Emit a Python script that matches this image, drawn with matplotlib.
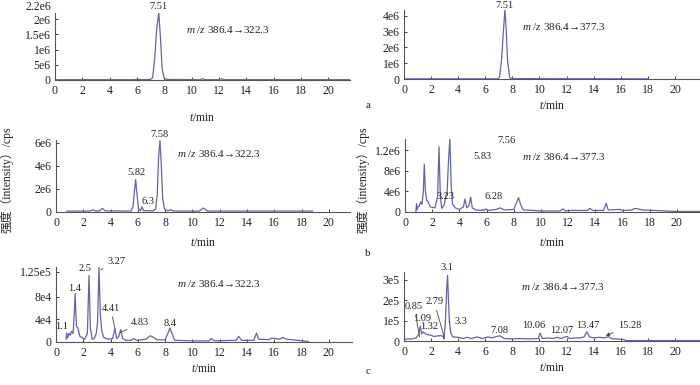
import matplotlib
matplotlib.use("Agg")
import matplotlib.pyplot as plt

plt.rcParams.update({
    "font.family": ["Liberation Serif", "DejaVu Serif"],
    "mathtext.fontset": "custom",
    "mathtext.it": "Liberation Serif:italic",
    "mathtext.rm": "Liberation Serif",
    "axes.edgecolor": "#555555",
    "axes.linewidth": 0.8,
})

LINE = "#6262b0"
TXT = "#222222"
CJK = ["Liberation Serif", "Noto Sans CJK SC"]

X_TICKS = [0, 2, 4, 6, 8, 10, 12, 14, 16, 18, 20]

# ---- a: standard, m/z 386.4 -> 322.3
a1_t = [0, 5.8, 6.0, 6.4, 7.0, 7.15, 7.3, 7.45, 7.6, 7.72, 7.85, 8.0, 8.2,
        10.6, 10.8, 11.0, 12.0, 12.2, 12.4, 21.6]
a1_y = [0.01e6, 0.01e6, 0.025e6, 0.01e6, 0.02e6, 0.08e6, 0.7e6, 1.7e6, 2.2e6,
        1.4e6, 0.35e6, 0.05e6, 0.02e6, 0.01e6, 0.04e6, 0.01e6, 0.01e6, 0.04e6,
        0.01e6, 0.01e6]
a1_ticks = [0, 0.5e6, 1e6, 1.5e6, 2e6]
a1_ticklabels = ["0", "5e6", "1e6", "1.5e6", "2e6"]
a1_top_label = "2.2e6"
a1_top = 2.2e6
a1_peaks = ["7.51"]
a1_px = [7.6]
a1_py = [2.4e6]

# ---- a: standard, m/z 386.4 -> 377.3
a2_t = [0, 6.9, 7.05, 7.2, 7.35, 7.45, 7.55, 7.65, 7.8, 8.0, 18.0]
a2_y = [0.01e6, 0.01e6, 0.1e6, 1.2e6, 3.2e6, 4.4e6, 3.0e6, 1.1e6, 0.1e6,
        0.02e6, 0.01e6]
a2_ticks = [0, 1e6, 2e6, 3e6, 4e6]
a2_ticklabels = ["0", "1e6", "2e6", "3e6", "4e6"]
a2_peaks = ["7.51"]
a2_px = [7.45]
a2_py = [4.68e6]

# ---- b: m/z 386.4 -> 322.3
b1_t = [0.8, 2.5, 2.7, 2.9, 3.2, 3.4, 3.6, 5.5, 5.65, 5.75, 5.84, 5.93, 6.05,
        6.2, 6.3, 6.42, 7.1, 7.3, 7.42, 7.52, 7.62, 7.72, 7.82, 7.95, 8.2, 8.4,
        8.6, 10.5, 10.8, 11.1, 18.8]
b1_y = [0.08e6, 0.08e6, 0.2e6, 0.08e6, 0.1e6, 0.32e6, 0.1e6, 0.08e6, 0.5e6,
        1.8e6, 2.8e6, 1.6e6, 0.3e6, 0.12e6, 0.45e6, 0.12e6, 0.1e6, 0.25e6,
        1.5e6, 4.8e6, 6.2e6, 4.0e6, 1.2e6, 0.25e6, 0.1e6, 0.2e6, 0.08e6,
        0.08e6, 0.35e6, 0.08e6, 0.08e6]
b1_ticks = [0, 2e6, 4e6, 6e6]
b1_ticklabels = ["0", "2e6", "4e6", "6e6"]
b1_peaks = ["7.58", "5.82", "6.3"]
b1_px = [7.6, 5.86, 6.75]
b1_py = [6.7e6, 3.4e6, 0.9e6]

# ---- b: m/z 386.4 -> 377.3
b2_t = [0.8, 0.85, 0.9, 0.95, 1.05, 1.15, 1.25, 1.35, 1.42, 1.5, 1.6, 1.7,
        1.85, 2.2, 2.4, 2.5, 2.6, 2.7, 2.9, 3.0, 3.1, 3.2, 3.3, 3.4, 3.5, 3.7,
        4.0, 4.3, 4.41, 4.55, 4.7, 4.83, 4.95, 5.2, 5.6, 5.7, 5.8, 5.95, 6.1,
        6.7, 7.0, 7.3, 8.0, 8.2, 8.35, 8.5, 8.7, 9.5, 10.0, 11.4, 11.6, 11.8,
        12.2, 13.4, 13.6, 13.8, 14.6, 14.8, 14.95, 15.8, 16.0, 16.7, 16.9,
        17.5, 20.0, 21.7]
b2_y = [0.0, 0.16e6, 0.05e6, 0.1e6, 0.12e6, 0.2e6, 0.15e6, 0.4e6, 0.93e6,
        0.4e6, 0.23e6, 0.2e6, 0.1e6, 0.08e6, 0.3e6, 1.27e6, 0.3e6, 0.07e6,
        0.15e6, 0.3e6, 0.4e6, 1.0e6, 1.42e6, 0.5e6, 0.15e6, 0.08e6, 0.05e6,
        0.1e6, 0.25e6, 0.08e6, 0.12e6, 0.29e6, 0.08e6, 0.04e6, 0.03e6, 0.05e6,
        0.03e6, 0.06e6, 0.03e6, 0.05e6, 0.08e6, 0.04e6, 0.05e6, 0.18e6,
        0.28e6, 0.15e6, 0.04e6, 0.03e6, 0.02e6, 0.02e6, 0.06e6, 0.02e6,
        0.03e6, 0.03e6, 0.07e6, 0.03e6, 0.03e6, 0.17e6, 0.04e6, 0.05e6,
        0.03e6, 0.04e6, 0.07e6, 0.04e6, 0.01e6, 0.01e6]
b2_ticks = [0, 0.4e6, 0.8e6, 1.2e6]
b2_ticklabels = ["0", "4e6", "8e6", "1.2e6"]
b2_peaks = ["7.56", "5.83", "3.23", "6.28"]
b2_px = [7.5, 5.7, 3.0, 6.55]
b2_py = [1.4e6, 1.07e6, 0.3e6, 0.3e6]

# ---- c: m/z 386.4 -> 322.3
c1_t = [0.75, 0.78, 0.85, 0.95, 1.05, 1.15, 1.25, 1.32, 1.4, 1.5, 1.6, 1.75,
        2.1, 2.3, 2.42, 2.52, 2.65, 2.8, 2.95, 3.05, 3.15, 3.25, 3.35, 3.5,
        3.8, 4.15, 4.32, 4.45, 4.6, 4.74, 4.88, 5.1, 5.5, 5.7, 5.9, 6.6, 6.9,
        7.1, 7.4, 8.0, 8.2, 8.35, 8.5, 8.7, 10.0, 11.2, 11.4, 11.6, 13.2,
        13.4, 13.6, 14.5, 14.7, 14.85, 15.6, 15.8, 16.4, 16.6, 16.9, 18.5]
c1_y = [0.5e4, 1.6e4, 0.7e4, 1.6e4, 1.2e4, 1.9e4, 1.5e4, 4.0e4, 8.6e4, 2.8e4,
        2.5e4, 1.0e4, 0.5e4, 1.5e4, 11.8e4, 2.5e4, 0.5e4, 0.6e4, 1.5e4,
        3.5e4, 13.4e4, 5.0e4, 2.0e4, 0.8e4, 0.5e4, 0.6e4, 2.4e4, 0.6e4,
        1.0e4, 2.2e4, 0.6e4, 0.3e4, 0.3e4, 0.6e4, 0.3e4, 0.5e4, 1.1e4,
        0.9e4, 0.4e4, 0.4e4, 1.5e4, 2.5e4, 1.5e4, 0.3e4, 0.2e4, 0.2e4,
        0.6e4, 0.2e4, 0.3e4, 1.0e4, 0.3e4, 0.3e4, 1.6e4, 0.5e4, 0.4e4,
        0.7e4, 0.5e4, 0.8e4, 0.5e4, 0.1e4]
c1_ticks = [0, 4e4, 8e4, 1.25e5]
c1_ticklabels = ["0", "4e4", "8e4", "1.25e5"]
c1_peaks = ["1.1", "1.4", "2.5", "8.4"]
c1_px = [0.4, 1.38, 2.1, 8.35]
c1_py = [2.7e4, 9.4e4, 1.3e5, 3.3e4]
# labels with leader lines: text, text pos, peak pos
c1_lead = ["3.27", "4.41", "4.83"]
c1_lx = [4.4, 4.0, 6.15]
c1_ly = [1.43e5, 6.0e4, 3.4e4]
c1_tx = [3.3, 4.32, 4.74]
c1_ty = [1.28e5, 2.4e4, 1.7e4]

# ---- c: m/z 386.4 -> 377.3
c2_t = [0, 0.3, 0.6, 0.9, 1.0, 1.1, 1.2, 1.3, 1.4, 1.5, 1.6, 1.8, 2.0, 2.2,
        2.5, 2.8, 2.9, 2.95, 3.05, 3.15, 3.22, 3.28, 3.35, 3.45, 3.6, 4.0,
        4.4, 4.6, 5.0, 5.4, 5.8, 6.2, 6.5, 6.8, 7.1, 7.4, 8.0, 8.6, 9.2, 9.9,
        10.05, 10.2, 10.6, 11.0, 11.3, 11.6, 11.9, 12.05, 12.2, 12.6, 13.0,
        13.3, 13.5, 13.7, 14.0, 14.4, 14.8, 15.1, 15.3, 15.7, 16.2, 16.4,
        21.8]
c2_y = [0.08e5, 0.1e5, 0.1e5, 0.15e5, 0.25e5, 0.35e5, 0.73e5, 0.35e5, 0.45e5,
        0.4e5, 0.35e5, 0.3e5, 0.28e5, 0.22e5, 0.25e5, 0.26e5, 0.2e5, 0.1e5,
        0.9e5, 2.5e5, 3.2e5, 2.0e5, 0.94e5, 0.4e5, 0.2e5, 0.18e5, 0.12e5,
        0.18e5, 0.12e5, 0.2e5, 0.12e5, 0.2e5, 0.15e5, 0.22e5, 0.25e5, 0.12e5,
        0.1e5, 0.12e5, 0.1e5, 0.12e5, 0.38e5, 0.12e5, 0.15e5, 0.12e5, 0.18e5,
        0.12e5, 0.2e5, 0.22e5, 0.12e5, 0.15e5, 0.15e5, 0.2e5, 0.45e5, 0.2e5,
        0.15e5, 0.18e5, 0.15e5, 0.22e5, 0.12e5, 0.1e5, 0.08e5, 0.02e5, 0.02e5]
c2_ticks = [0, 1e5, 2e5, 3e5]
c2_ticklabels = ["0", "1e5", "2e5", "3e5"]
c2_peaks = ["1.09", "1.32", "3.1", "7.08", "10.06", "12.07", "13.47"]
c2_px = [1.34, 1.86, 3.15, 7.05, 9.6, 11.65, 13.55]
c2_py = [1.1e5, 0.7e5, 3.6e5, 0.5e5, 0.75e5, 0.5e5, 0.75e5]
c2_lead = ["0.85", "2.79", "3.3"]
c2_lx = [0.75, 2.23, 4.2]
c2_ly = [1.67e5, 1.92e5, 0.94e5]
c2_tx = [1.15, 2.98, 3.35]
c2_ty = [0.2e5, 0.16e5, 0.94e5]
c2_arrow = "15.28"
c2_arrow_xy = (14.9, 0.26e5)
c2_arrow_txt = (16.7, 0.75e5)

MZ_322 = "$m$ /$z$ 386.4\u2192322.3"
MZ_377 = "$m$ /$z$ 386.4\u2192377.3"

W, H = 700, 385


def px_rect(left, right, top, bottom):
    return [left / W, 1 - bottom / H, (right - left) / W, (bottom - top) / H]


def panel(rect, xmax, ymax, t, y, ticks, ticklabels, mz, mz_xy,
          peaks, px, py, label_pad):
    ax = fig.add_axes(rect)
    ax.plot(t, y, color=LINE, lw=0.9)
    ax.set_xlim(0, xmax)
    ax.set_ylim(0, ymax)
    ax.set_xticks(X_TICKS)
    ax.set_yticks(ticks)
    ax.set_yticklabels(ticklabels)
    ax.spines[["top", "right"]].set_visible(False)
    ax.tick_params(axis="both", direction="in", length=2, width=0.6,
                   labelsize=8.5, colors=TXT)
    ax.tick_params(axis="x", pad=3.5)
    ax.tick_params(axis="y", pad=3)
    ax.set_xlabel("$t$/min", fontsize=8.5, color=TXT, labelpad=label_pad)
    ax.text(mz_xy[0], mz_xy[1], mz, fontsize=8, color=TXT, va="center")
    for lab, x, yy in zip(peaks, px, py):
        ax.text(x, yy, lab, fontsize=7.5, color=TXT, ha="center", va="center")
    return ax


def leaders(ax, labels, lx, ly, tx, ty):
    for lab, x, yy, x2, y2 in zip(labels, lx, ly, tx, ty):
        ax.annotate(lab, xy=(x2, y2), xytext=(x, yy), fontsize=7.5, color=TXT,
                    ha="center", va="center",
                    arrowprops=dict(arrowstyle="-", color="#444444", lw=0.6,
                                    shrinkA=1, shrinkB=0))


fig = plt.figure(figsize=(7, 3.85), dpi=100)

ax = panel(px_rect(55, 350, 13, 80), 21.6, 2.2e6, a1_t, a1_y, a1_ticks,
           a1_ticklabels, MZ_322, (9.6, 1.67e6), a1_peaks, a1_px, a1_py, 11)
# top tick label sits a little above the axis end, as in the source
ax.annotate(a1_top_label, xy=(0, a1_top), xycoords=("axes fraction", "data"),
            xytext=(-3, 4.5), textcoords="offset points", ha="right",
            va="center", fontsize=8.5, color=TXT)
ax = panel(px_rect(404, 700, 9.5, 79), 21.85, 4.4e6, a2_t, a2_y, a2_ticks,
           a2_ticklabels, MZ_377, (8.7, 3.35e6), a2_peaks, a2_px, a2_py, 3)
ax = panel(px_rect(56, 350, 140, 212), 21.55, 6.25e6, b1_t, b1_y, b1_ticks,
           b1_ticklabels, MZ_322, (8.86, 5.1e6), b1_peaks, b1_px, b1_py, 6)
ax = panel(px_rect(405, 700, 139, 212), 21.7, 1.42e6, b2_t, b2_y, b2_ticks,
           b2_ticklabels, MZ_377, (8.58, 1.08e6), b2_peaks, b2_px, b2_py, 6)
ax = panel(px_rect(56, 352, 267, 342), 21.7, 1.33e5, c1_t, c1_y, c1_ticks,
           c1_ticklabels, MZ_322, (8.84, 1.04e5), c1_peaks, c1_px, c1_py, 3)
leaders(ax, c1_lead, c1_lx, c1_ly, c1_tx, c1_ty)
ax = panel(px_rect(404, 700, 272, 341), 21.85, 3.37e5, c2_t, c2_y, c2_ticks,
           c2_ticklabels, MZ_377, (8.6, 2.65e5), c2_peaks, c2_px, c2_py, 3)
leaders(ax, c2_lead, c2_lx, c2_ly, c2_tx, c2_ty)
ax.annotate(c2_arrow, xy=c2_arrow_xy, xytext=c2_arrow_txt, fontsize=7.5,
            color=TXT, ha="center", va="center",
            arrowprops=dict(arrowstyle="-|>", color="#444444", lw=0.6,
                            mutation_scale=5, shrinkA=2, shrinkB=0))

# shared y label for the b row, panel letters
ylab = "强度（intensity）/cps"
fig.text(7 / W, 1 - 180 / H, ylab, rotation=90, ha="center", va="center",
         fontsize=8.5, color=TXT, family=CJK)
fig.text(363 / W, 1 - 180 / H, ylab, rotation=90, ha="center", va="center",
         fontsize=8.5, color=TXT, family=CJK)
for letter, yy in zip(["a", "b", "c"], [106, 254, 372]):
    fig.text(368 / W, 1 - yy / H, letter, ha="center", va="center",
             fontsize=8, color=TXT)

fig.savefig("out.png", dpi=100)
